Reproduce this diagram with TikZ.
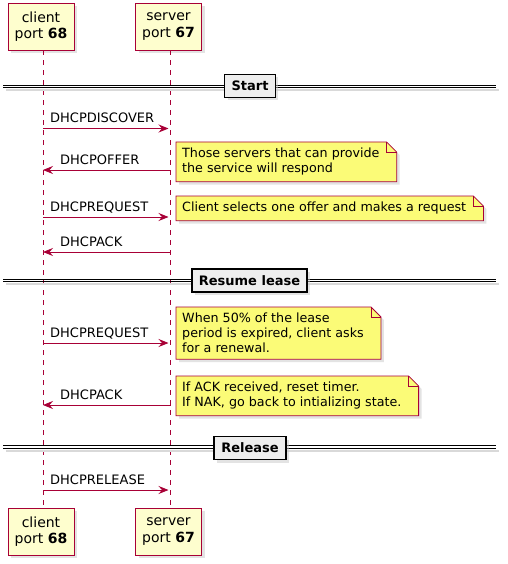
\documentclass[tikz,border=0pt]{standalone}
\usepackage{fontspec}
\setmainfont{DejaVu Sans}
\usetikzlibrary{arrows.meta,shadows,backgrounds}
\definecolor{umlred}{HTML}{A80036}
\definecolor{partfill}{HTML}{FEFECE}
\definecolor{notefill}{HTML}{FBFB77}
\definecolor{sepfill}{HTML}{EEEEEE}
\begin{document}
\begin{tikzpicture}[x=1pt,y=-1pt,
  dropsh/.style={drop shadow={shadow xshift=3pt,shadow yshift=-3pt,fill=black!22}},
  part/.style={draw=umlred,line width=0.95pt,fill=partfill,dropsh,minimum width=66pt,minimum height=47pt,align=center,inner sep=2pt,font=\fontsize{14}{16.5}\selectfont},
  life/.style={umlred,line width=0.8pt,dash pattern=on 5pt off 5pt},
  msg/.style={umlred,line width=0.9pt,-{Stealth[length=10pt,width=8pt,inset=3.5pt]}},
  lbl/.style={inner sep=0pt,anchor=base west,font=\fontsize{13}{15}\selectfont},
  note/.style={inner xsep=6pt,inner ysep=6pt,align=left,anchor=north west,font=\fontsize{12.7}{15}\selectfont},
  sepline/.style={line width=0.9pt},
  sepbox/.style={draw,line width=1.6pt,fill=sepfill,dropsh,minimum height=23pt,inner xsep=7pt,font=\bfseries\fontsize{13}{15}\selectfont}]
\useasboundingbox (0,0) rectangle (507,564);
% participants and lifelines
\node[part] (ct) at (41,26.5) {client\\port \textbf{68}};
\node[part] (st) at (168.5,26.5) {server\\port \textbf{67}};
\node[part] (cb) at (41,531.5) {client\\port \textbf{68}};
\node[part] (sb) at (168.5,531.5) {server\\port \textbf{67}};
\draw[life] ([xshift=2]ct.south) -- ([xshift=2]cb.north);
\draw[life] ([xshift=2]st.south) -- ([xshift=2]sb.north);
% message rows
\foreach \i/\y in {1/128.5,2/170,3/217,4/252,5/343,6/405,7/490}{
  \coordinate (c\i) at (43,\y);
  \coordinate (s\i) at (170.5,\y);
}
\draw[msg,shorten >=2pt] (c1) -- (s1);
\node[lbl] (m1) at ([xshift=7,yshift=5.5]c1) {DHCPDISCOVER};
\draw[msg] (s2) -- (c2);
\node[lbl] (m2) at ([xshift=17,yshift=5.5]c2) {DHCPOFFER};
\draw[msg,shorten >=2pt] (c3) -- (s3);
\node[lbl] (m3) at ([xshift=7,yshift=5.5]c3) {DHCPREQUEST};
\draw[msg] (s4) -- (c4);
\node[lbl] (m4) at ([xshift=17,yshift=5.5]c4) {DHCPACK};
\draw[msg,shorten >=2pt] (c5) -- (s5);
\node[lbl] (m5) at ([xshift=7,yshift=5.5]c5) {DHCPREQUEST};
\draw[msg] (s6) -- (c6);
\node[lbl] (m6) at ([xshift=17,yshift=5.5]c6) {DHCPACK};
\draw[msg,shorten >=2pt] (c7) -- (s7);
\node[lbl] (m7) at ([xshift=7,yshift=5.5]c7) {DHCPRELEASE};
% dividers
\foreach \i/\y in {1/86.3,2/280.3,3/447}{
  \coordinate (dl\i) at (3,\y);
  \coordinate (dr\i) at (496,\y);
  \draw[black!15,line width=2pt] ([xshift=3,yshift=-3.8]dl\i) -- ([xshift=3,yshift=-3.8]dr\i);
  \draw[sepline] ([yshift=1.2]dl\i) -- ([yshift=1.2]dr\i);
  \draw[sepline] ([yshift=-1.2]dl\i) -- ([yshift=-1.2]dr\i);
}
\node[sepbox] (d1) at (250,86) {Start\hspace{7pt}};
\node[sepbox] (d2) at (249.5,280.5) {Resume lease\hspace{7pt}};
\node[sepbox] (d3) at (250,448) {Release\hspace{7pt}};
% notes
\node[note] (n1) at (176,142) {Those servers that can provide\\the service will respond};
\node[note] (n2) at (176,196) {Client selects one offer and makes a request};
\node[note] (n3) at (176,307) {When 50\% of the lease\\period is expired, client asks\\for a renewal.};
\node[note] (n4) at (176,376) {If ACK received, reset timer.\\If NAK, go back to intializing state.};
\begin{scope}[on background layer]
\foreach \n in {n1,n2,n3,n4}{
  \filldraw[draw=umlred,fill=notefill,line width=0.8pt,dropsh]
    (\n.north west) -- ([xshift=1]\n.north east) -- ([xshift=11,yshift=-10]\n.north east)
    -- ([xshift=11]\n.south east) -- (\n.south west) -- cycle;
  \draw[umlred,line width=0.8pt] ([xshift=1]\n.north east) |- ([xshift=11,yshift=-10]\n.north east);
}
\end{scope}
\end{tikzpicture}
\end{document}
